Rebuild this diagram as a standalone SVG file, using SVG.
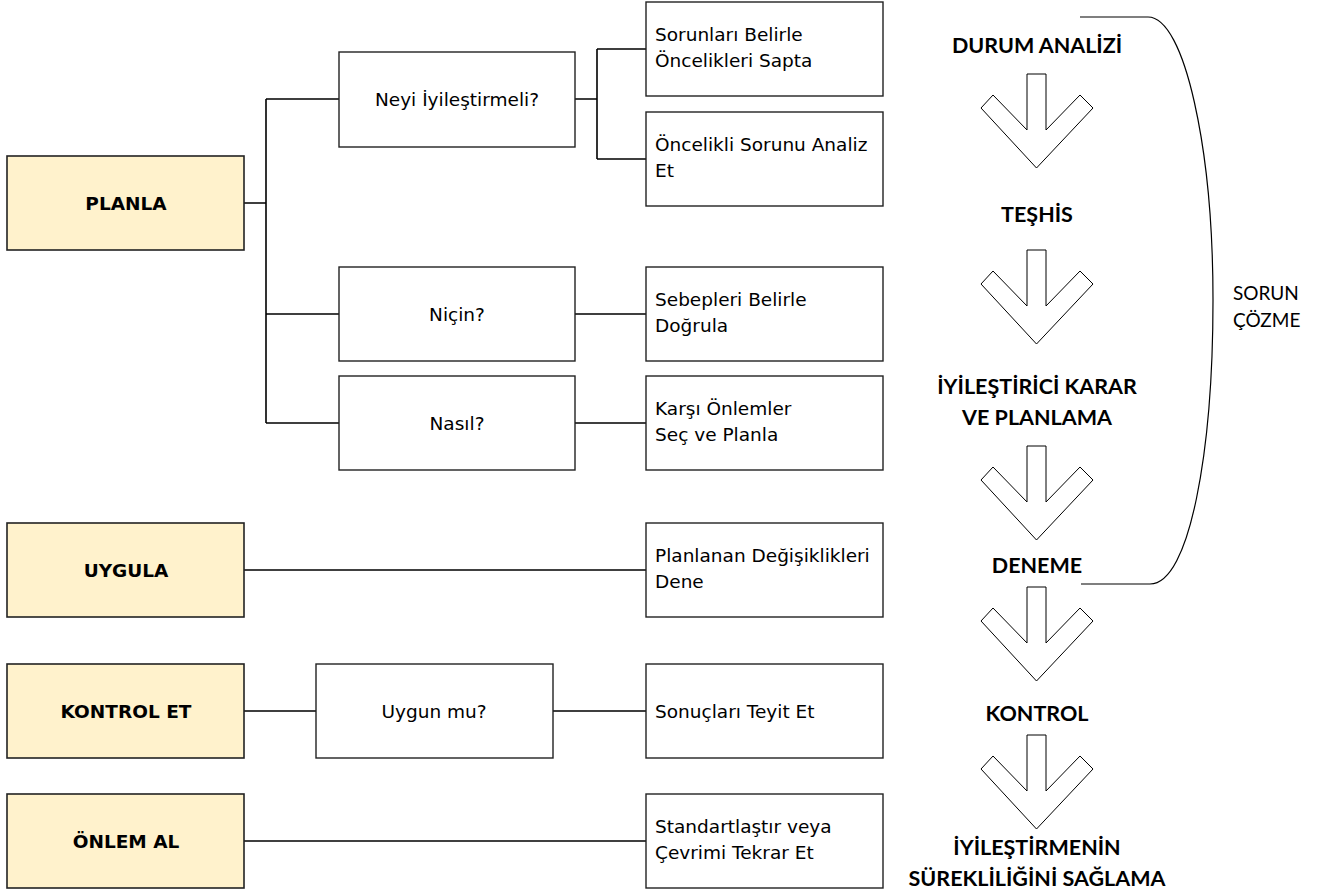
<svg xmlns="http://www.w3.org/2000/svg" width="1320" height="895" viewBox="0 0 1320 895">
<defs>
<style>
.box{fill:#ffffff;stroke:#222;stroke-width:1.4}
.main{fill:#fff2cc;stroke:#222;stroke-width:1.6}
.t{font-family:"DejaVu Sans",Verdana,sans-serif;font-size:18.5px;fill:#000}
.c{text-anchor:middle}
.b{font-family:"DejaVu Sans",Verdana,sans-serif;font-size:18.5px;font-weight:bold;fill:#000;text-anchor:middle}
.s{font-family:Lato,"Liberation Sans",sans-serif;font-size:21.5px;font-weight:bold;fill:#000;text-anchor:middle}
.r{font-family:Lato,"Liberation Sans",sans-serif;font-size:19px;fill:#000}
.ln{fill:none;stroke:#000;stroke-width:1.6}
.arr{fill:#fff;stroke:#000;stroke-width:1}
</style>
<polygon id="dn" points="1027,130 1027,74 1046,74 1046,130 1080,95 1093,108 1036.5,168 981,108 993,95"/>
</defs>
<rect width="1320" height="895" fill="#fff"/>
<g id="connectors" class="ln">
<path d="M244,203H266M266,99V423M266,99H339M266,314H339M266,423H339"/>
<path d="M575,99H597M597,49V159M597,49H646M597,159H646"/>
<path d="M575,314H646M575,423H646"/>
<path d="M244,570H646"/>
<path d="M244,711H316M553,711H646"/>
<path d="M244,841H646"/>
</g>
<g id="planla"><rect class="main" x="7" y="156" width="237" height="94"/><text class="b" x="126" y="210">PLANLA</text></g>
<g id="uygula"><rect class="main" x="7" y="523" width="237" height="94"/><text class="b" x="126" y="577">UYGULA</text></g>
<g id="kontrolet"><rect class="main" x="7" y="664" width="237" height="94"/><text class="b" x="126" y="718">KONTROL ET</text></g>
<g id="onlemal"><rect class="main" x="7" y="794" width="237" height="94"/><text class="b" x="126" y="848">ÖNLEM AL</text></g>
<g id="neyi"><rect class="box" x="339" y="52" width="236" height="95"/><text class="t c" x="457" y="106">Neyi İyileştirmeli?</text></g>
<g id="nicin"><rect class="box" x="339" y="267" width="236" height="94"/><text class="t c" x="457" y="321">Niçin?</text></g>
<g id="nasil"><rect class="box" x="339" y="376" width="236" height="94"/><text class="t c" x="457" y="430">Nasıl?</text></g>
<g id="uygunmu"><rect class="box" x="316" y="664" width="237" height="94"/><text class="t c" x="434" y="718">Uygun mu?</text></g>
<g id="sorunlari"><rect class="box" x="646" y="2" width="237" height="94"/><text class="t" x="655" y="41">Sorunları Belirle</text><text class="t" x="655" y="67">Öncelikleri Sapta</text></g>
<g id="oncelikli"><rect class="box" x="646" y="112" width="237" height="94"/><text class="t" x="655" y="151">Öncelikli Sorunu Analiz</text><text class="t" x="655" y="177">Et</text></g>
<g id="sebepleri"><rect class="box" x="646" y="267" width="237" height="94"/><text class="t" x="655" y="306">Sebepleri Belirle</text><text class="t" x="655" y="332">Doğrula</text></g>
<g id="karsi"><rect class="box" x="646" y="376" width="237" height="94"/><text class="t" x="655" y="415">Karşı Önlemler</text><text class="t" x="655" y="441">Seç ve Planla</text></g>
<g id="planlanan"><rect class="box" x="646" y="523" width="237" height="94"/><text class="t" x="655" y="562">Planlanan Değişiklikleri</text><text class="t" x="655" y="588">Dene</text></g>
<g id="sonuclari"><rect class="box" x="646" y="664" width="237" height="94"/><text class="t" x="655" y="718">Sonuçları Teyit Et</text></g>
<g id="standart"><rect class="box" x="646" y="794" width="237" height="94"/><text class="t" x="655" y="833">Standartlaştır veya</text><text class="t" x="655" y="859">Çevrimi Tekrar Et</text></g>
<g id="steps">
<text class="s" x="1037" y="53">DURUM ANALİZİ</text>
<use href="#dn" class="arr"/>
<text class="s" x="1037" y="222">TEŞHİS</text>
<use href="#dn" class="arr" y="176"/>
<text class="s" x="1037" y="394">İYİLEŞTİRİCİ KARAR</text>
<text class="s" x="1037" y="425">VE PLANLAMA</text>
<use href="#dn" class="arr" y="372"/>
<text class="s" x="1037" y="573">DENEME</text>
<use href="#dn" class="arr" y="513"/>
<text class="s" x="1037" y="721">KONTROL</text>
<use href="#dn" class="arr" y="661"/>
<text class="s" x="1037" y="855">İYİLEŞTİRMENİN</text>
<text class="s" x="1037" y="886">SÜREKLİLİĞİNİ SAĞLAMA</text>
</g>
<g id="bracket">
<path d="M1080,17H1148C1185,17 1213,150 1213,300C1213,450 1190,584 1150,584H1081" fill="none" stroke="#000" stroke-width="1.2"/>
<text class="r" x="1233" y="300">SORUN</text>
<text class="r" x="1233" y="327">ÇÖZME</text>
</g>
</svg>
